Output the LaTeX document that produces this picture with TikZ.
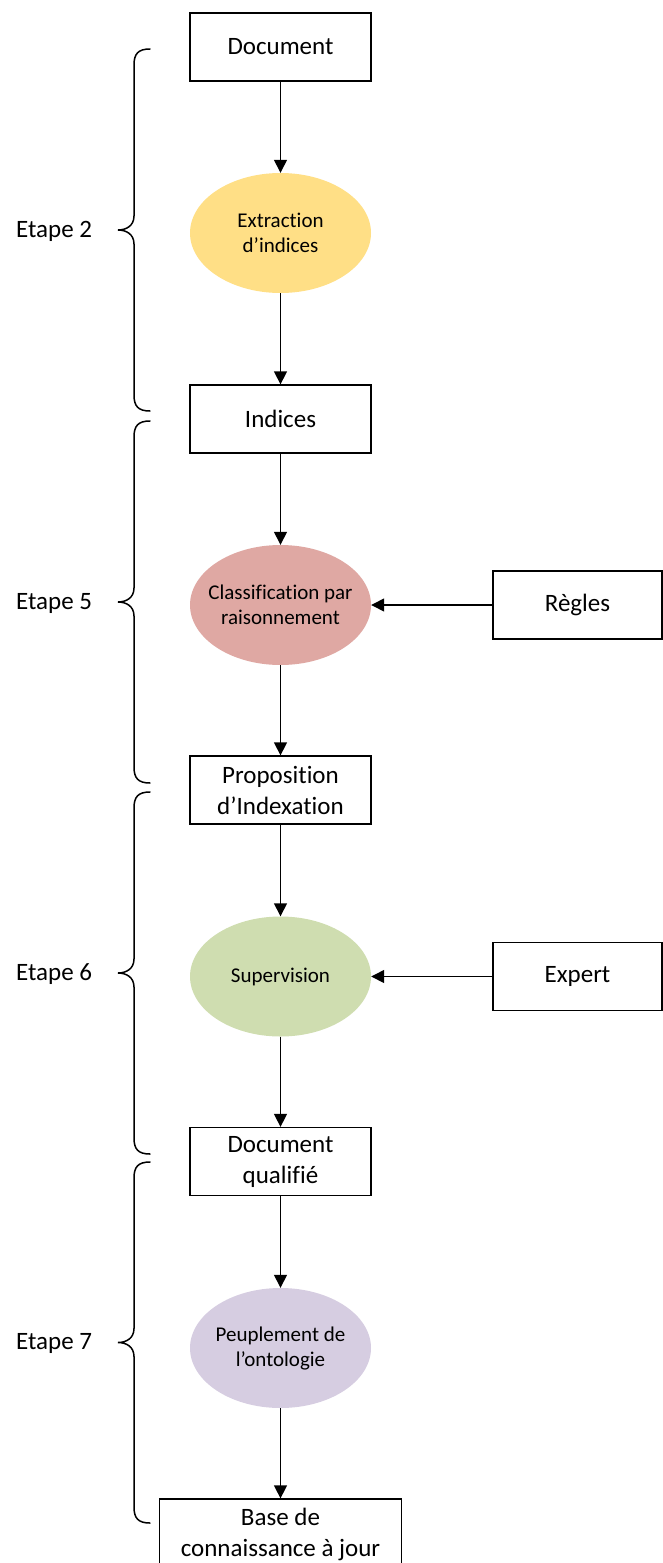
\documentclass[tikz,border=0pt]{standalone}
\usepackage{fontspec}
\setmainfont{Carlito}[Ligatures={NoCommon,NoContextual,NoRare}, RawFeature={-liga;-clig;-dlig;-calt}]
\usetikzlibrary{arrows.meta,shapes.geometric}

\definecolor{goldfill}{HTML}{FFDF86}
\definecolor{rosefill}{HTML}{DFA8A3}
\definecolor{olivefill}{HTML}{CFDDB0}
\definecolor{lilacfill}{HTML}{D6CDE1}

\tikzset{
  stepbox/.style={draw=black, line width=1.3pt, fill=white, inner sep=0pt,
    minimum width=181pt, minimum height=68pt, align=center,
    font=\fontsize{25}{31}\selectfont},
  sidebox/.style={stepbox, minimum width=169pt},
  process/.style={ellipse, draw=none, inner sep=0pt,
    minimum width=181pt, minimum height=120pt},
  processtext/.style={align=center, inner sep=0pt,
    font=\fontsize{21}{25}\selectfont},
  flow/.style={line width=1.4pt, -{Triangle[width=13pt,length=13pt]}},
  bracket/.style={line width=1.5pt, line cap=round},
  steplabel/.style={anchor=west, inner sep=0pt, font=\fontsize{25}{30}\selectfont}
}

% curly bracket from (150,top) to (150,bottom) with its tip at x=118
\newcommand{\stepbrace}[2]{%
  \pgfmathsetmacro{\bmid}{(#1+#2)/2}
  \draw[bracket] (150,#1) .. controls (138,#1) and (134,#1+5) .. (134,#1+16)
    -- (134,\bmid-14) .. controls (134,\bmid-4) and (126,\bmid) .. (118,\bmid)
    .. controls (126,\bmid) and (134,\bmid+4) .. (134,\bmid+14)
    -- (134,#2-16) .. controls (134,#2-5) and (138,#2) .. (150,#2);
}

\begin{document}
\begin{tikzpicture}[x=1pt, y=-1pt]
  \useasboundingbox (0,0) rectangle (663,1563);

  % main chain
  \node[stepbox] (doc)   at (280.5,47)   {Document};
  \node[process, fill=goldfill] (extr) at (280.5,233) {};
  \node[processtext] (extrtxt) at (extr.center) {Extraction\\d’indices};
  \node[stepbox] (ind)   at (280.5,419)  {Indices};
  \node[process, fill=rosefill] (classif) at (280.5,605) {};
  \node[processtext] (classiftxt) at (classif.center) {Classification par\\raisonnement};
  \node[stepbox] (prop)  at (280.5,790)  {Proposition\\d’Indexation};
  \node[process, fill=olivefill] (superv) at (280.5,976.5) {};
  \node[processtext] (supervtxt) at (superv.center) {Supervision};
  \node[stepbox] (qual)  at (280.5,1161.5) {Document\\qualifié};
  \node[process, fill=lilacfill] (peupl) at (280.5,1348) {};
  \node[processtext] (peupltxt) at (peupl.center) {Peuplement de\\l’ontologie};
  \node[stepbox, minimum width=242pt, minimum height=72pt] (base) at (280.5,1535) {};
  \node[processtext, font=\fontsize{25}{31}\selectfont] (basetxt) at (280.5,1534) {Base de\\connaissance à jour};

  % side inputs
  \node[sidebox] (regles) at (577.5,605) {Règles};
  \node[sidebox] (expert) at (577.5,976.5) {Expert};

  % connectors
  \draw[flow] (doc) -- (extr);
  \draw[flow] (extr) -- (ind);
  \draw[flow] (ind) -- (classif);
  \draw[flow] (classif) -- (prop);
  \draw[flow] (prop) -- (superv);
  \draw[flow] (superv) -- (qual);
  \draw[flow] (qual) -- (peupl);
  \draw[flow] (peupl) -- (base);
  \draw[flow] (regles) -- (classif);
  \draw[flow] (expert) -- (superv);

  % step brackets and labels
  \stepbrace{49}{411}
  \stepbrace{421}{783}
  \stepbrace{792}{1154}
  \stepbrace{1162}{1523}
  \node[steplabel] (e2) at (16,231) {Etape 2};
  \node[steplabel] (e5) at (16,603) {Etape 5};
  \node[steplabel] (e6) at (16,974) {Etape 6};
  \node[steplabel] (e7) at (16,1343) {Etape 7};
\end{tikzpicture}
\end{document}
